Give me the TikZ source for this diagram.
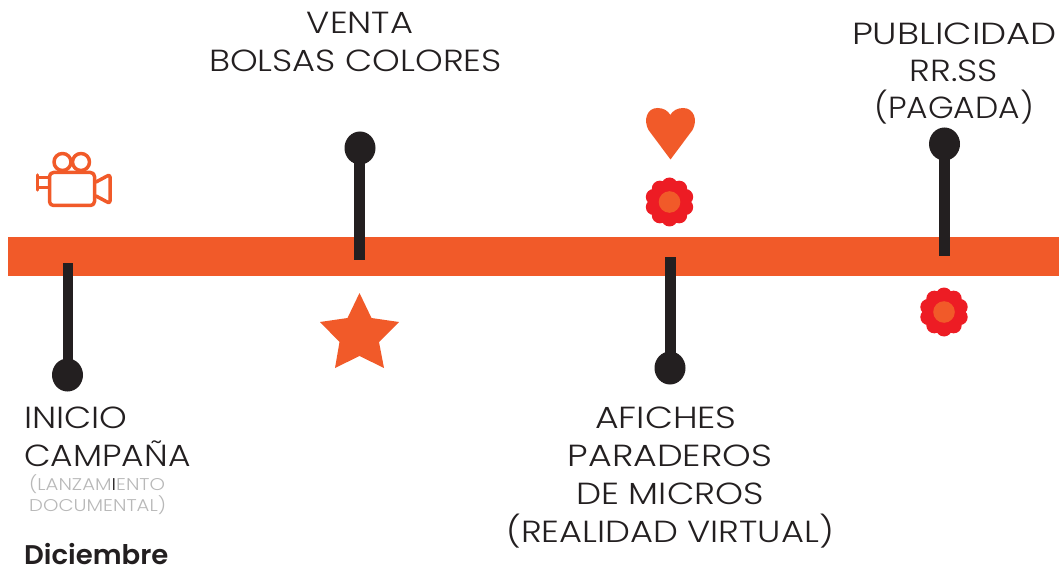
\documentclass[tikz,border=0pt]{standalone}
\usepackage{graphicx}
\usepackage{fontspec}
\setmainfont[FakeStretch=1.155]{Poppins Light}
\newfontfamily\boldf[FakeStretch=1.02]{Poppins SemiBold}
\definecolor{orangeb}{HTML}{F15A29}
\definecolor{redf}{HTML}{ED1C24}
\definecolor{pinc}{HTML}{231F20}
\usetikzlibrary{shapes.geometric}
\tikzset{
 pinhead/.style={ellipse,fill=pinc,minimum width=31pt,minimum height=33pt,inner sep=0pt},
 stem/.style={draw=pinc,line width=11pt},
 lab/.style={text=pinc,font=\fontsize{30.5}{37.6}\selectfont,align=center,inner sep=0pt,anchor=base},
 small/.style={text=black!28,font=\fontsize{17}{21}\selectfont,align=left,inner sep=0pt,anchor=base west},
 cam/.style={draw=orangeb,line width=3.5pt,line join=round,line cap=round,fill=none}
}
\newcommand{\flower}[2]{%
 \foreach \a in {0,36,...,324}{\fill[redf] (#1,#2) ++(\a+18:16.5) circle[radius=8];}
 \fill[redf] (#1,#2) circle[radius=19];
 \fill[orangeb] (#1,#2) circle[radius=10.8];
}
\newcommand{\sx}[2]{\scalebox{#1}[1]{#2}}
\begin{document}
\begin{tikzpicture}[x=1pt,y=-1pt]
\useasboundingbox (0,0) rectangle (1059,569);
\fill[orangeb] (8,237) rectangle (1059,276);
% pins
\node[pinhead] (p1) at (67.5,375) {};
\node[pinhead] (p2) at (360,148) {};
\node[pinhead] (p3) at (670,368) {};
\node[pinhead] (p4) at (944.5,144) {};
\coordinate (e1) at (68,263);
\coordinate (e2) at (359.5,260);
\coordinate (e3) at (670.5,257);
\coordinate (e4) at (944.5,256);
\draw[stem,line width=10.5pt] (e1 |- p1.center) -- (e1);
\draw[stem] (e2 |- p2.center) -- (e2);
\draw[stem] (e3 |- p3.center) -- (e3);
\draw[stem] (e4 |- p4.center) -- (e4);
% labels
\node[lab] (t2) at (360,34) {VENTA};
\node[lab] (t2b) at (355.5,72) {BOLSAS COLORES};
\node[lab] (t4) at (954.5,45) {\sx{1.05}{PUBLICIDAD}};
\node[lab] (t4b) at (954,82) {RR.SS};
\node[lab] (t4c) at (954,119) {\sx{0.935}{(PAGADA)}};
\node[lab,anchor=base west] (t1) at (24,428.5) {INICIO};
\node[lab,anchor=base west] (t1b) at (24,466) {\sx{0.98}{CAMPAÑA}};
\node[small] (t1c) at (29,490.5) {(LANZAM{\color{pinc}I}ENTO};
\node[small] (t1d) at (29,511.5) {DOCUMENTAL)};
\node[anchor=base west,inner sep=0pt,text=pinc,font=\boldf\fontsize{27}{30}\selectfont] (t1e) at (24,564) {Diciembre};
\node[lab] (t3) at (666,428.5) {\sx{1.03}{AFICHES}};
\node[lab] (t3b) at (670,466) {\sx{1.035}{PARADEROS}};
\node[lab] (t3c) at (670,504) {\sx{1.01}{DE MICROS}};
\node[lab] (t3d) at (670,542) {(REALIDAD VIRTUAL)};
% star
\fill[orangeb] (359.5,293) -- (371.5,318) -- (399,322) -- (379,342) -- (384,368) -- (359.5,356) -- (335,368) -- (339.5,342) -- (320,322) -- (347.5,318) -- cycle;
% heart
\fill[orangeb] (670.5,159.5) -- (648.5,130) .. controls (643,120) and (647,108) .. (657.5,108) .. controls (664,108) and (668,111) .. (670.3,115) .. controls (672.5,111) and (677,108) .. (683,108) .. controls (694,108) and (698,120) .. (692.5,130) -- cycle;
% flowers
\flower{669.5}{202}
\flower{944}{312}
% camera
\draw[cam,rounded corners=4pt] (49.5,172.5) rectangle (94.5,205.5);
\draw[cam] (62.5,162) circle[radius=8.5];
\draw[cam] (81,162) circle[radius=8.5];
\draw[cam] (49,177.5) -- (38,177.5) (49,187.5) -- (38,187.5) (37.5,175) -- (37.5,190);
\draw[cam,rounded corners=2.5pt] (96,182) -- (110,174.5) -- (110,203.5) -- (96,196);
\end{tikzpicture}
\end{document}
